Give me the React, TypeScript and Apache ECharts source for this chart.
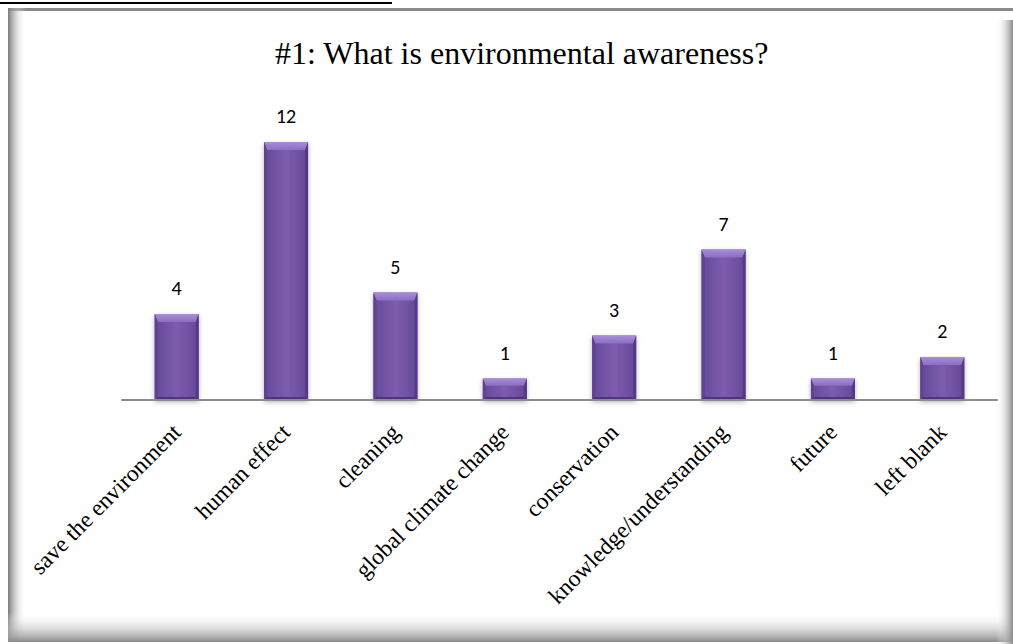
import React, { useEffect, useRef } from "react";
import * as echarts from "echarts";

const categories = [
  "save the environment",
  "human effect",
  "cleaning",
  "global climate change",
  "conservation",
  "knowledge/understanding",
  "future",
  "left blank",
];
const values = [4, 12, 5, 1, 3, 7, 1, 2];
const titleText = "#1: What is environmental awareness?";

export default function App() {
  const ref = useRef<HTMLDivElement>(null);
  useEffect(() => {
    if (!ref.current) return;
    const chart = echarts.init(ref.current, undefined, { renderer: "svg" });
    const W = 1013;
    const H = 644;
    const grad = (x: number, y: number, x2: number, y2: number, c1: string, c2: string) =>
      new echarts.graphic.LinearGradient(x, y, x2, y2, [
        { offset: 0, color: c1 },
        { offset: 1, color: c2 },
      ]);
    const barW = 44;
    const bev = 8;
    const renderBar = (params: any, api: any) => {
      const v = api.value(1);
      const top = api.coord([api.value(0), v]);
      const base = api.coord([api.value(0), 0]);
      const x = top[0] - barW / 2;
      const y = top[1];
      const h = base[1] - top[1];
      const w = barW;
      const b = Math.min(bev, h / 3);
      const s = 3;
      return {
        type: "group",
        children: [
          {
            type: "rect",
            shape: { x: x, y: y, width: w, height: h },
            style: {
              fill: new echarts.graphic.LinearGradient(0, 0, 1, 0, [
                { offset: 0, color: "#654898" },
                { offset: 0.5, color: "#7d5cae" },
                { offset: 1, color: "#654898" },
              ]),
              shadowColor: "rgba(0,0,0,0.3)",
              shadowBlur: 5,
              shadowOffsetY: 2,
            },
          },
          {
            type: "polygon",
            shape: { points: [[x, y], [x + w, y], [x + w - s, y + b], [x + s, y + b]] },
            style: { fill: grad(0, 0, 0, 1, "#a88ddb", "#8c6ec2") },
          },
          {
            type: "polygon",
            shape: { points: [[x, y], [x + s, y + b], [x + s, y + h - s], [x, y + h]] },
            style: { fill: "#5e4390" },
          },
          {
            type: "polygon",
            shape: { points: [[x + w, y], [x + w - s, y + b], [x + w - s, y + h - s], [x + w, y + h]] },
            style: { fill: "#553b84" },
          },
          {
            type: "polygon",
            shape: { points: [[x, y + h], [x + s, y + h - s], [x + w - s, y + h - s], [x + w, y + h]] },
            style: { fill: "#4d3578" },
          },
          {
            type: "text",
            style: {
              text: String(v),
              x: top[0],
              y: y - 16,
              align: "center",
              verticalAlign: "bottom",
              fontFamily: "Carlito, Lato, sans-serif",
              fontSize: 20,
              fill: "#000",
            },
          },
        ],
      };
    };
    chart.setOption({
      animation: false,
      backgroundColor: "#ffffff",
      title: {
        text: titleText,
        left: 270,
        top: 32,
        textStyle: {
          fontFamily: "Liberation Serif",
          fontSize: 32,
          fontWeight: "normal",
          color: "#000",
        },
      },
      grid: { left: 122, right: 16, top: 142, bottom: 244, containLabel: false },
      xAxis: {
        type: "category",
        data: categories,
        axisLine: { lineStyle: { color: "#8c8c8c", width: 2 } },
        axisTick: { show: false },
        axisLabel: {
          rotate: 45,
          interval: 0,
          margin: 28,
          fontFamily: "Liberation Serif",
          fontSize: 23.5,
          color: "#000",
        },
        z: 5,
      },
      yAxis: {
        type: "value",
        min: 0,
        max: 12,
        show: false,
        splitLine: { show: false },
      },
      series: [
        {
          type: "custom",
          renderItem: renderBar,
          data: values.map((v, i) => [i, v]),
          encode: { x: 0, y: 1 },
          z: 2,
        },
      ],
      graphic: [
        { type: "line", shape: { x1: 0, y1: 3, x2: 392, y2: 3 }, style: { stroke: "#000", lineWidth: 2 }, z: 10 },
        { type: "rect", shape: { x: 8, y: 8, width: W - 8, height: 3 }, style: { fill: "#8a8a8a" }, z: -1 },
        { type: "rect", shape: { x: 8, y: 8, width: 18, height: H - 10 }, style: { fill: grad(0, 0, 1, 0, "#7a7a7a", "rgba(255,255,255,0)") }, z: -1 },
        { type: "rect", shape: { x: 8, y: 612, width: W - 8, height: 30 }, style: { fill: grad(0, 0, 0, 1, "rgba(255,255,255,0)", "#8a8a8a") }, z: -1 },
        { type: "rect", shape: { x: 996, y: 20, width: 17, height: H - 20 }, style: { fill: grad(0, 0, 1, 0, "rgba(255,255,255,0)", "#8a8a8a") }, z: -1 },
      ],
    });
    return () => chart.dispose();
  }, []);
  return (
    <div
      ref={ref}
      style={{ position: "absolute", left: 0, top: 0, width: 1013, height: 644 }}
    />
  );
}
